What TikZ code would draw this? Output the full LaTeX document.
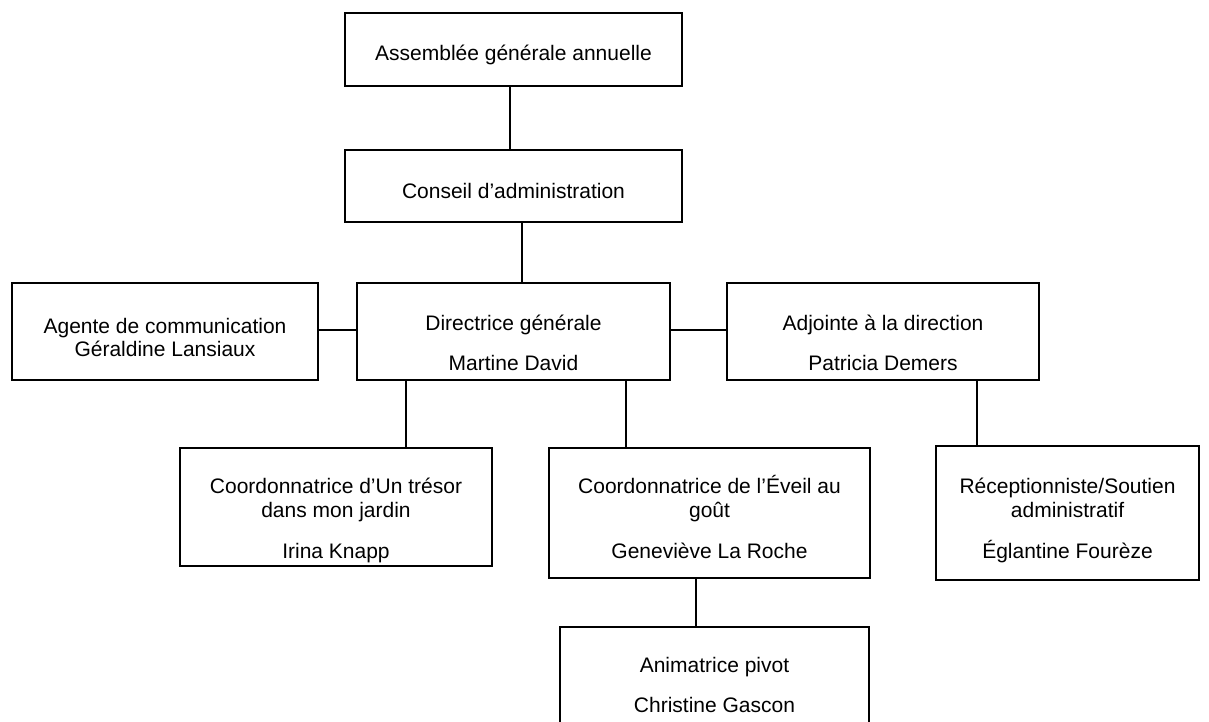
\documentclass[tikz,border=0pt]{standalone}
\usepackage{fontspec}
\setmainfont{Liberation Sans}
\begin{document}
\begin{tikzpicture}[x=1pt,y=-1pt,
  box/.style={draw, line width=1.5pt, rectangle, inner sep=0pt},
  txt/.style={anchor=base, inner sep=0pt, font=\fontsize{21}{24}\selectfont},
  link/.style={line width=1.5pt}]
\useasboundingbox (0,0) rectangle (1209,722);
% boxes
\node[box, minimum width=337pt, minimum height=73pt] (b1) at (513.5,49.5) {};
\node[box, minimum width=337pt, minimum height=72pt] (b2) at (513.5,186) {};
\node[box, minimum width=306pt, minimum height=97pt] (b3) at (165,331.5) {};
\node[box, minimum width=313pt, minimum height=97pt] (b4) at (513.5,331.5) {};
\node[box, minimum width=312pt, minimum height=97pt] (b5) at (883,331.5) {};
\node[box, minimum width=312pt, minimum height=118pt] (b6) at (336,507) {};
\node[box, minimum width=321pt, minimum height=130pt] (b7) at (709.5,513) {};
\node[box, minimum width=263pt, minimum height=134pt] (b8) at (1067.5,513) {};
\node[box, minimum width=309pt, minimum height=118pt] (b9) at (714.5,686) {};
% texts
\node[txt] (t1) at (513.5,61) {Assemblée générale annuelle};
\node[txt] (t2) at (513.5,198) {Conseil d’administration};
\node[txt] (t3a) at (165,333) {Agente de communication};
\node[txt] (t3b) at (165,356) {Géraldine Lansiaux};
\node[txt] (t4a) at (513.5,330) {Directrice générale};
\node[txt] (t4b) at (513.5,370) {Martine David};
\node[txt] (t5a) at (883,330) {Adjointe à la direction};
\node[txt] (t5b) at (883,370) {Patricia Demers};
\node[txt] (t6a) at (336,493) {Coordonnatrice d’Un trésor};
\node[txt] (t6b) at (336,517) {dans mon jardin};
\node[txt] (t6c) at (336,558) {Irina Knapp};
\node[txt] (t7a) at (709.5,493) {Coordonnatrice de l’Éveil au};
\node[txt] (t7b) at (709.5,517) {goût};
\node[txt] (t7c) at (709.5,558) {Geneviève La Roche};
\node[txt] (t8a) at (1067.5,493) {Réceptionniste/Soutien};
\node[txt] (t8b) at (1067.5,517) {administratif};
\node[txt] (t8c) at (1067.5,558) {Églantine Fourèze};
\node[txt] (t9a) at (714.5,672) {Animatrice pivot};
\node[txt] (t9b) at (714.5,712) {Christine Gascon};
% connectors
\draw[link] ([xshift=-3.5pt]b1.south) -- ([xshift=-3.5pt]b2.north);
\draw[link] ([xshift=8.5pt]b2.south) -- ([xshift=8.5pt]b4.north);
\draw[link] ([yshift=1.5pt]b3.east) -- ([yshift=1.5pt]b4.west);
\draw[link] ([yshift=1.5pt]b4.east) -- ([yshift=1.5pt]b5.west);
\draw[link] ([xshift=-107.5pt]b4.south) -- ([xshift=70pt]b6.north);
\draw[link] ([xshift=112.5pt]b4.south) -- ([xshift=-83.5pt]b7.north);
\draw[link] ([xshift=94pt]b5.south) -- ([xshift=-90.5pt]b8.north);
\draw[link] ([xshift=-13.5pt]b7.south) -- ([xshift=-18.5pt]b9.north);
\end{tikzpicture}
\end{document}
